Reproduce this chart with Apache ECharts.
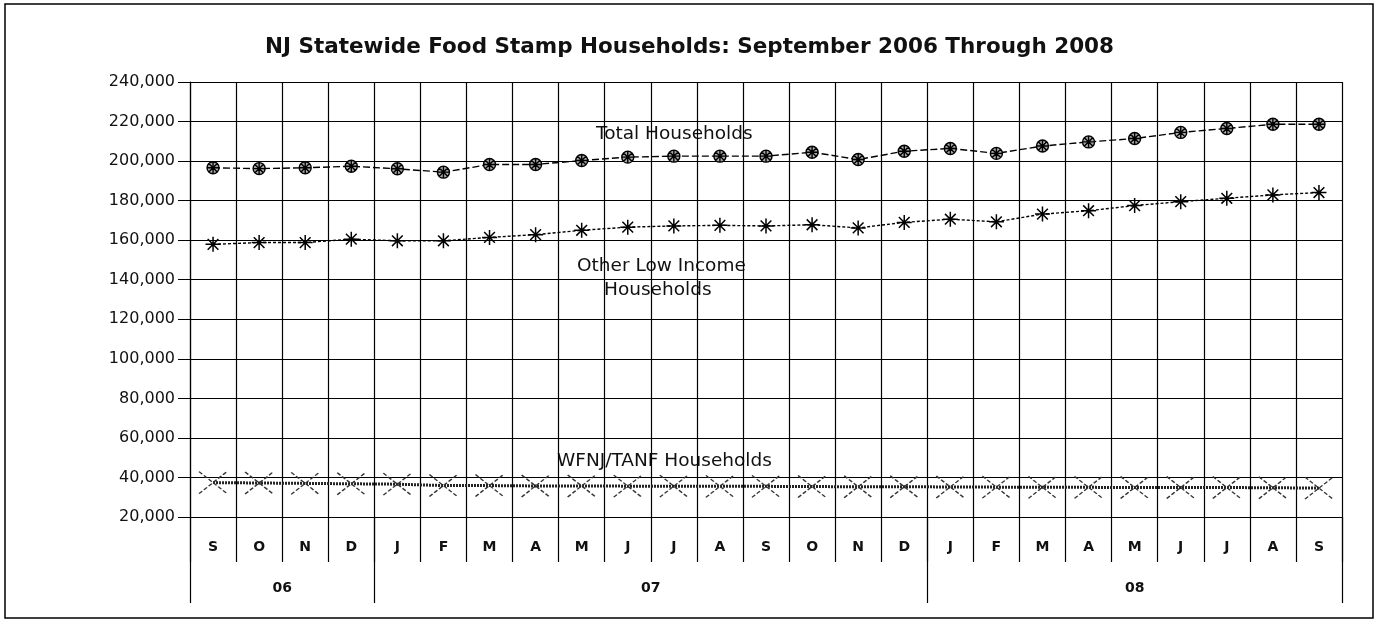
<!DOCTYPE html>
<html>
<head>
<meta charset="utf-8">
<script src="https://cdn.jsdelivr.net/npm/echarts@6/dist/echarts.min.js"></script>
<style>
  html, body { margin: 0; padding: 0; background: #fff; }
  #chart { width: 1379px; height: 621px; }
</style>
</head>
<body>
<div id="chart"></div>
<script>
  // months Sep 2006 .. Sep 2008
  const months = ['S', 'O', 'N', 'D', 'J', 'F', 'M', 'A', 'M', 'J', 'J', 'A', 'S', 'O', 'N', 'D', 'J', 'F', 'M', 'A', 'M', 'J', 'J', 'A', 'S']
  const years = ['06', '07', '08']
  const monthsPerYear = [4, 12, 9]
  const yTicks = [20000, 240000, 20000] // min, max, step

  const totalHouseholds = [196600, 196200, 196600, 197400, 196100, 194400, 198300, 198300, 200300, 202000, 202500, 202500, 202500, 204500, 200800, 205000, 206400, 203900, 207600, 209700, 211400, 214500, 216500, 218600, 218600]
  const otherLowIncome = [157900, 158800, 158800, 160500, 159700, 159700, 161400, 162800, 165000, 166600, 167200, 167500, 167200, 167800, 166200, 169000, 170600, 169300, 173200, 174900, 177500, 179500, 181200, 182900, 184100]
  const wfnjTanf = [37400, 37200, 37000, 36800, 36600, 35900, 35900, 35700, 35700, 35600, 35600, 35500, 35500, 35400, 35300, 35300, 35200, 35100, 35000, 35000, 34900, 34900, 34900, 34800, 34600]

  // year boundaries and label centres on a 0..25 value scale
  let yearEdges = [0]
  let yearCentres = []
  monthsPerYear.forEach(n => {
    let start = yearEdges[yearEdges.length - 1]
    yearCentres.push(start + n / 2)
    yearEdges.push(start + n)
  })

  // the scanned original has wide lettering, DejaVu matches its widths best
  const font = '"DejaVu Sans", Arial, sans-serif'
  const chart = echarts.init(document.getElementById('chart'))

  let option = {
    animation: false,
    backgroundColor: '#fff',
    textStyle: { fontFamily: font },
    title: {
      text: 'NJ Statewide Food Stamp Households: September 2006 Through 2008',
      left: 'center',
      top: 31,
      textStyle: { fontSize: 21.5, fontWeight: 'bold', color: '#111', fontFamily: font }
    },
    grid: { left: 190, right: 37, top: 82, bottom: 104 },
    xAxis: [{
      type: 'category',
      data: months,
      boundaryGap: true,
      axisLine: { show: true, lineStyle: { color: '#000', width: 1 } },
      axisTick: { show: true, interval: 0, length: 45, lineStyle: { color: '#000', width: 1.2 } },
      axisLabel: { interval: 0, margin: 23, color: '#111', fontSize: 14, fontWeight: 'bold', fontFamily: font },
      splitLine: { show: true, interval: 0, lineStyle: { color: '#000', width: 1.2 } }
    }, {
      type: 'value',
      position: 'bottom',
      min: 0,
      max: months.length,
      axisLine: { show: false },
      splitLine: { show: false },
      axisTick: { show: true, customValues: yearEdges, length: 86, lineStyle: { color: '#000', width: 1.2 } },
      axisLabel: {
        customValues: yearCentres,
        margin: 64,
        color: '#111',
        fontSize: 14,
        fontWeight: 'bold',
        fontFamily: font,
        formatter: v => years[yearCentres.indexOf(v)]
      }
    }],
    yAxis: {
      type: 'value',
      min: yTicks[0],
      max: yTicks[1],
      interval: yTicks[2],
      axisLine: { show: true, lineStyle: { color: '#000', width: 1.2 } },
      axisTick: { show: true, length: 12, lineStyle: { color: '#000' } },
      axisLabel: {
        margin: 15,
        color: '#111',
        fontSize: 16,
        fontFamily: font,
        formatter: v => v.toLocaleString('en-US')
      },
      splitLine: { show: true, lineStyle: { color: '#000', width: 1.2 } }
    },
    series: [{
      name: 'Total Households',
      type: 'line',
      data: totalHouseholds,
      symbol: 'path://M0,-5A5,5 0 1,0 0,5A5,5 0 1,0 0,-5Z M-5,0L5,0 M0,-5L0,5 M-3.5,-3.5L3.5,3.5 M-3.5,3.5L3.5,-3.5',
      symbolSize: 12,
      itemStyle: { color: '#aaa', borderColor: '#000', borderWidth: 1.4 },
      lineStyle: { color: '#000', width: 1.4, type: [7, 3] }
    }, {
      name: 'Other Low Income Households',
      type: 'line',
      data: otherLowIncome,
      symbol: 'path://M0,-7L0,7 M-7,0L7,0 M-5,-5L5,5 M-5,5L5,-5',
      symbolSize: 15,
      itemStyle: { color: 'rgba(0,0,0,0)', borderColor: '#000', borderWidth: 1.5 },
      lineStyle: { color: '#000', width: 1.4, type: [3, 2] }
    }, {
      name: 'WFNJ/TANF Households',
      type: 'line',
      data: wfnjTanf,
      symbol: 'path://M-13,-9L13,9 M-13,9L13,-9',
      symbolSize: [28, 22],
      itemStyle: { color: 'rgba(0,0,0,0)', borderColor: '#333', borderWidth: 1.4, borderType: [4, 2] },
      lineStyle: { color: '#222', width: 3, type: [2, 1] }
    }],
    graphic: [{
      type: 'rect',
      shape: { x: 5, y: 4, width: 1368, height: 614 },
      style: { fill: 'none', stroke: '#000', lineWidth: 1.5 },
      silent: true
    }, {
      type: 'text',
      left: 596, top: 125,
      style: { text: 'Total Households', fontSize: 18.5, fill: '#111', fontFamily: font }
    }, {
      type: 'text',
      left: 577, top: 257,
      style: { text: 'Other Low Income', fontSize: 18.5, fill: '#111', fontFamily: font }
    }, {
      type: 'text',
      left: 604, top: 281,
      style: { text: 'Households', fontSize: 18.5, fill: '#111', fontFamily: font }
    }, {
      type: 'text',
      left: 557, top: 452,
      style: { text: 'WFNJ/TANF Households', fontSize: 18.5, fill: '#111', fontFamily: font }
    }]
  }

  chart.setOption(option)
</script>
</body>
</html>
